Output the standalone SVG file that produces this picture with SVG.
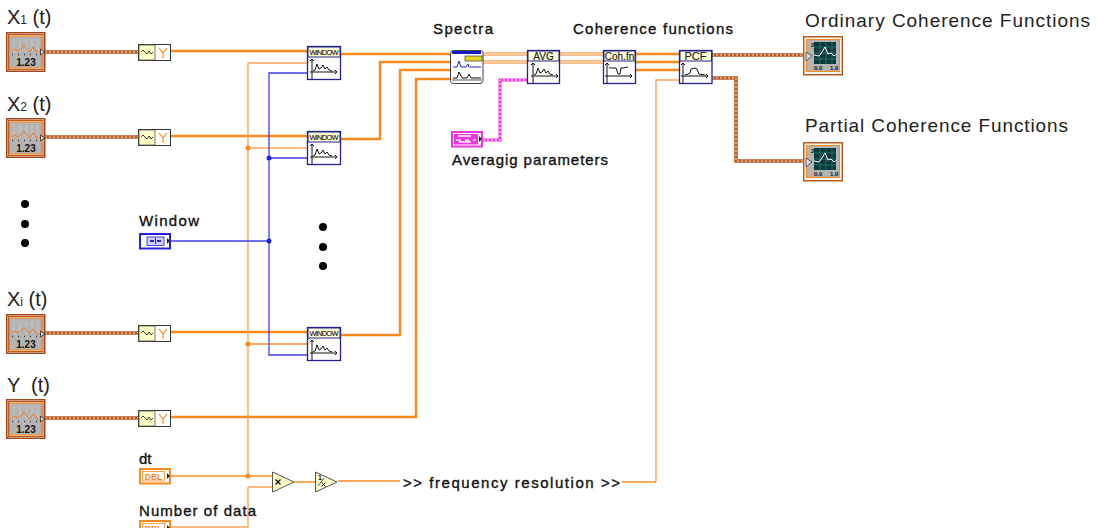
<svg xmlns="http://www.w3.org/2000/svg" width="1104" height="528" viewBox="0 0 1104 528">
<style>
text{font-family:"Liberation Sans",Arial,sans-serif;fill:#111}
.lab{font-size:15px;fill:#111;stroke:#111;stroke-width:.35px}
.big{font-size:19px;fill:#222}
.sig{font-size:20px;fill:#222}
.ax{fill:none;stroke:#111;stroke-width:1}
.hd{font-size:10px;fill:#222;text-anchor:middle;stroke:#222;stroke-width:.15px}
.w{fill:none;stroke-linejoin:miter}
.o3{stroke:#fb8a1e;stroke-width:2.4}
.o1{stroke:#fb8f2a;stroke-width:1.3}
.ol{stroke:#fca45a;stroke-width:1.4}
.b1{stroke:#3f3ff0;stroke-width:1.3}
.dbl{stroke:#fba35a;stroke-width:3.6}
.dbi{stroke:#fff3e4;stroke-width:1}
.br{stroke:#b85a22;stroke-width:3.6}
.bri{stroke:#f6e5d6;stroke-width:1;stroke-dasharray:2 2}
.pk{stroke:#f032e0;stroke-width:3}
.pki{stroke:#fff;stroke-width:1;stroke-dasharray:2 2}
.box{fill:#fff;stroke:#23238e;stroke-width:1.3}
.hdr{fill:#ffffd8;stroke:#23238e;stroke-width:1}
.tri{fill:#ffffc8;stroke:#555;stroke-width:1}
</style>
<defs>
<g id="wave">
<rect x=".75" y=".75" width="38" height="38.5" fill="#fff" stroke="#a5451c" stroke-width="1.5"/>
<rect x="2.5" y="2.5" width="34.500" height="35" fill="#fff" stroke="#b85a22" stroke-width="1.200"/>
<rect x="3.500" y="4" width="32" height="32" fill="#b4b4b4" stroke="#fb8a1e" stroke-width="1.200"/>
<path d="M8 7v13M14 7v13M20 7v13M26 7v13M32 7v13" stroke="#c8c8c8" stroke-width="1"/>
<path d="M6 22.500h28" stroke="#333" stroke-width="1.500" stroke-dasharray="1 5"/>
<path d="M6 19l3-2 3 2 3-2 3-4 3 4 3 3 3-5 3 4 3 1" fill="none" stroke="#f07a20" stroke-width="1"/>
<text x="20" y="33.500" font-size="10" font-weight="bold" text-anchor="middle">1.23</text>
<path d="M34.500 17l4 3-4 3z" fill="#ddd" stroke="#222" stroke-width=".8"/>
</g>
<g id="graph">
<rect x=".75" y=".75" width="38.500" height="38" fill="#fff" stroke="#b85a22" stroke-width="1.500"/>
<rect x="3.500" y="3.500" width="33" height="32" fill="#b4b4b4" stroke="#fb8a1e" stroke-width="1.200"/>
<rect x="11" y="6" width="22" height="22" fill="#0d3a3a"/>
<path d="M11 11h22M11 17h22M11 23h22M17 6v22M23 6v22M29 6v22" stroke="#2f8f8f" stroke-width=".6"/>
<path d="M11 19l5 1 3-4 3-5 3 7 3-1 3 3 3-2" fill="none" stroke="#fff" stroke-width="1"/>
<text x="8" y="11" font-size="6" font-weight="bold">2</text>
<text x="11" y="34" font-size="6" font-weight="bold">0.0</text>
<text x="27" y="34" font-size="6" font-weight="bold">1.0</text>
<path d="M3 16l6 4-6 5z" fill="#ddd" stroke="#333" stroke-width=".8"/>
</g>
<g id="conv">
<rect x=".5" y=".5" width="32" height="16" fill="#fff" stroke="#333"/>
<rect x="1" y="1" width="16" height="15" fill="#ffffc8" stroke="#555" stroke-width=".8"/>
<path d="M3 8l2-2 2 2 2 2 2-3 2 3 2-2" fill="none" stroke="#222" stroke-width=".9"/>
<path d="M21 4l4 5 4-5M25 9v5" fill="none" stroke="#fb8a1e" stroke-width="1.200"/>
</g>
<g id="ctl">
<rect x="1" y="1" width="30" height="14.500" fill="#fff" stroke="#fb8a1e" stroke-width="2"/>
<rect x="3.500" y="3.500" width="22" height="9.500" fill="#fff" stroke="#fb8a1e" stroke-width=".8"/>
<text x="14.500" y="11.500" font-size="8.500" font-weight="bold" text-anchor="middle" style="fill:#fb8a1e">DBL</text>
<path d="M28 5l3 3-3 3z" fill="#222"/>
</g>
<path id="peaks" class="ax" d="M2 15h27M4 2v20M2 4l2-2 2 2M27 13l2 2-2 2M5 14l2-1 2-6 2 5 2-1 2-3 2 4 2-2 2 3 3 1"/>
</defs>

<g id="connectors">
<path class="w br" d="M45 52H138M45 137H138M45 333H138M45 418H138M712 55H804M712 78H736V161H804"/>
<path class="w bri" d="M45 52H138M45 137H138M45 333H138M45 418H138M712 55H804M712 78H736V161H804"/>
<path class="w o3" d="M171 51H307M171 136H307M171 332H307M171 417H416V79H450M340 54H450M340 139H380V62H450M340 335H400V70H450M635 54H679M635 62H679M635 70H679"/>
<path class="w ol" d="M307 63H248V476M248 148H307M248 487H272M248 487V527H171M656 482V80H679"/>
<path class="w o1" d="M248 344H307M171 476H272M294 482H315M338 481H400M622 482H656"/>
<path class="w b1" d="M307 73H269V355H307M307 158H269M171 241H269"/>
<path class="w dbl" d="M483 54H527M483 62H527M559 54H603M559 62H603"/>
<path class="w dbi" d="M483 54H527M483 62H527M559 54H603M559 62H603"/>
<path class="w pk" d="M483 140H500V80H527"/>
<path class="w pki" d="M483 140H500V80H527"/>
<circle cx="248" cy="148" r="2.500" fill="#fb8a1e"/>
<circle cx="269" cy="158" r="2.500" fill="#2222e0"/>
<circle cx="269" cy="241" r="2.500" fill="#2222e0"/>
<circle cx="248" cy="344" r="2.500" fill="#fb8a1e"/>
<circle cx="248" cy="476" r="2.500" fill="#fb8a1e"/>
</g>

<g id="x1"><text class="sig" x="7" y="24">X<tspan font-size="12">1</tspan> (t)</text><use href="#wave" x="6" y="32"/></g>
<g id="x2"><text class="sig" x="7" y="111">X<tspan font-size="12">2</tspan> (t)</text><use href="#wave" x="6" y="118"/></g>
<g id="xi"><text class="sig" x="7" y="306">X<tspan font-size="12">i</tspan> (t)</text><use href="#wave" x="6" y="314"/></g>
<g id="y"><text class="sig" x="7" y="392" xml:space="preserve">Y  (t)</text><use href="#wave" x="6" y="399"/></g>

<g id="conv1"><use href="#conv" x="138" y="44"/></g>
<g id="conv2"><use href="#conv" x="138" y="129"/></g>
<g id="conv3"><use href="#conv" x="138" y="325"/></g>
<g id="conv4"><use href="#conv" x="138" y="410"/></g>

<g id="window1"><rect class="box" x="307.500" y="46.500" width="33" height="33"/><rect class="hdr" x="308" y="47" width="32" height="10"/><text class="hd" x="324" y="55" style="font-size:7.500px" textLength="29">WINDOW</text><use href="#peaks" x="308" y="57"/></g>
<g id="window2"><rect class="box" x="307.500" y="131.500" width="33" height="33"/><rect class="hdr" x="308" y="132" width="32" height="10"/><text class="hd" x="324" y="140" style="font-size:7.500px" textLength="29">WINDOW</text><use href="#peaks" x="308" y="142"/></g>
<g id="window3"><rect class="box" x="307.500" y="327.500" width="33" height="33"/><rect class="hdr" x="308" y="328" width="32" height="10"/><text class="hd" x="324" y="336" style="font-size:7.500px" textLength="29">WINDOW</text><use href="#peaks" x="308" y="338"/></g>

<g id="windowctl"><text class="lab" x="139" y="226" textLength="60">Window</text>
<rect x="140" y="234" width="30" height="14.500" fill="#fff" stroke="#2222e0" stroke-width="2"/>
<rect x="147" y="237" width="17" height="8.500" fill="#d0d0f8" stroke="#2222e0" stroke-width=".8"/>
<path d="M155.500 238v6" stroke="#2222e0"/><path d="M154 241l-4 0M157 241l4 0" stroke="#2222e0" stroke-width="2"/>
<path d="M167 238l3 3-3 3z" fill="#222"/></g>

<g id="spectra"><text class="lab" x="433" y="34" textLength="60">Spectra</text>
<rect x="450.500" y="50.500" width="32.500" height="33" rx="3" fill="#fff" stroke="#444"/>
<path d="M452 52.500h29" stroke="#1a1ac8" stroke-width="3"/>
<rect x="465" y="56" width="17" height="5" fill="#e6d820" stroke="#222" stroke-width=".6"/>
<path d="M453 67h4l2-6 2 6h5l2-3 1 3h12" fill="none" stroke="#2222e0"/>
<path d="M453 78h4l2-6 3 6h5l2-4 2 4h10" fill="none" stroke="#111"/>
<path d="M452 80h30" stroke="#aaa" stroke-width="2"/></g>

<g id="avg"><rect class="box" x="527.500" y="50.500" width="32" height="33"/><rect class="hdr" x="528" y="51" width="31" height="10"/><text class="hd" x="543.500" y="59.500">AVG</text><use href="#peaks" x="529" y="61"/></g>
<g id="cohfn"><text class="lab" x="573" y="34" textLength="160">Coherence functions</text><rect class="box" x="603.500" y="50.500" width="32" height="33"/><rect class="hdr" x="604" y="51" width="31" height="10"/><text class="hd" x="619.500" y="59.500">Coh.fn</text><path class="ax" d="M605 76h27M607 63v20M605 65l2-2 2 2M630 74l2 2-2 2M609 68h5l2 0 2 6 2 0 1-6 2 0 5-1"/></g>
<g id="pcf"><rect class="box" x="679.500" y="50.500" width="32.500" height="33"/><rect class="hdr" x="680" y="51" width="31.500" height="10"/><text class="hd" x="695.500" y="60" style="font-size:11px">PCF</text><path class="ax" d="M681 76h27M683 63v20M681 65l2-2 2 2M706 74l2 2-2 2M685 75l3-1 2-1 1-4 4-1 2 1 2 5 6 1"/></g>

<g id="avgparams"><rect x="452" y="132" width="30" height="14.500" fill="#fff" stroke="#f032e0" stroke-width="2"/><rect x="454" y="134" width="24" height="10.500" fill="#f032e0"/><path d="M458 136h13M456 140h5M465 140h4M473 140h3M459 142h12" stroke="#fff" stroke-width="1.500"/><path d="M479 136l3 3-3 3z" fill="#222"/><text class="lab" x="452" y="165" textLength="156">Averagig parameters</text></g>

<g id="ordinary"><text class="big" x="805" y="27" textLength="285">Ordinary Coherence Functions</text><use href="#graph" x="803" y="36"/></g>
<g id="partial"><text class="big" x="805" y="132" textLength="263">Partial Coherence Functions</text><use href="#graph" x="803" y="142"/></g>

<g id="dt"><text class="lab" x="139" y="464">dt</text><use href="#ctl" x="139" y="468"/></g>
<g id="ndata"><text class="lab" x="139" y="516" textLength="117">Number of data</text><use href="#ctl" x="139" y="520"/></g>
<g id="multiply"><path class="tri" d="M272.500 472v20l21.500-10z"/><path d="M275.500 479.500l5 5M280.500 479.500l-5 5" stroke="#111" stroke-width="1.300"/></g>
<g id="invert"><path class="tri" d="M315.500 472v20l21.500-10z"/><text x="318" y="480" font-size="7" font-weight="bold">1</text><path d="M318 486l6-8" stroke="#555"/><path d="M321.500 482.500l4 4M325.500 482.500l-4 4" stroke="#111"/></g>
<g id="freq"><text class="lab" x="403" y="488" textLength="217">&gt;&gt; frequency resolution &gt;&gt;</text></g>

<g id="dots" fill="#000"><circle cx="25" cy="204" r="4"/><circle cx="25" cy="224" r="4"/><circle cx="25" cy="243" r="4"/><circle cx="323" cy="227" r="4"/><circle cx="323" cy="247" r="4"/><circle cx="323" cy="266" r="4"/></g>
</svg>
